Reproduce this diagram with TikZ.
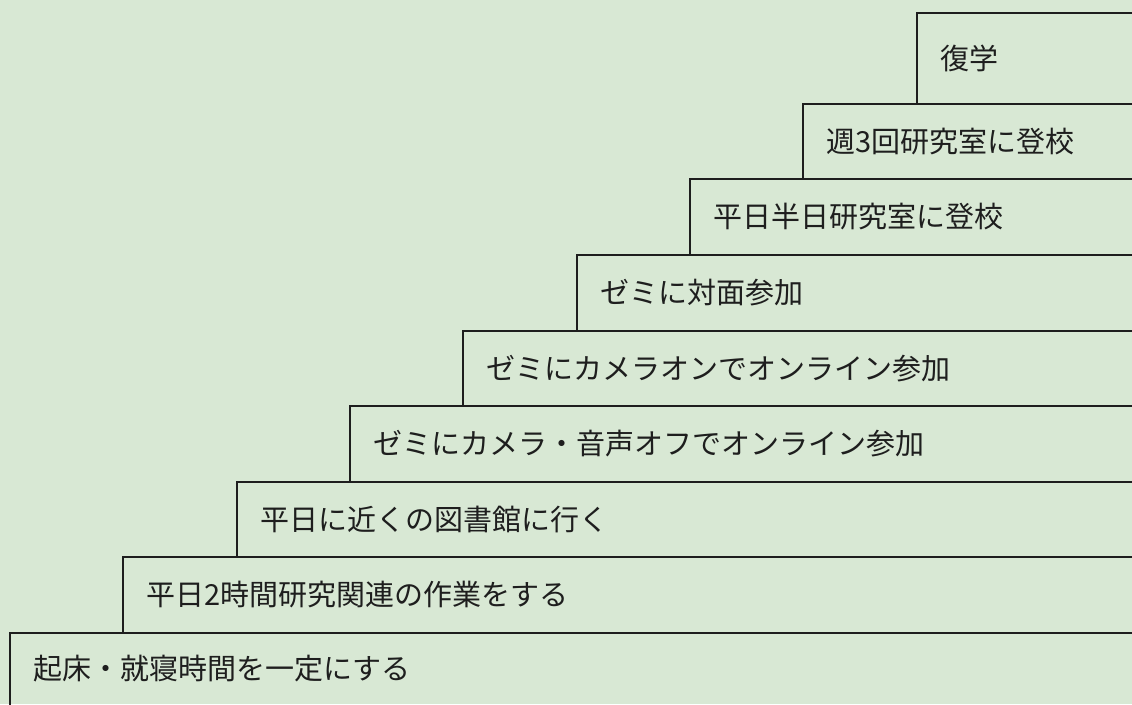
\documentclass[tikz,border=0pt]{standalone}
\usepackage{fontspec}
\newfontfamily\jpfont{Noto Sans CJK JP}
\definecolor{bg}{RGB}{216,232,212}
\definecolor{ink}{RGB}{30,30,30}
\begin{document}
\begin{tikzpicture}[x=1pt,y=-1pt,
  stepline/.style={line width=1.6pt, draw=ink, line cap=rect},
  steptext/.style={anchor=west, font=\jpfont\fontsize{29}{32}\selectfont, text=ink, inner sep=0pt}]
\fill[bg] (0,0) rectangle (1132,704);
\useasboundingbox (0,0) rectangle (1132,704);
\foreach \L/\T/\B/\txt [count=\i] in {
  10/633/704/{起床・就寝時間を一定にする},
  123/557/633/{平日2時間研究関連の作業をする},
  237/482/557/{平日に近くの図書館に行く},
  350/406/482/{ゼミにカメラ・音声オフでオンライン参加},
  463/331/406/{ゼミにカメラオンでオンライン参加},
  577/255/331/{ゼミに対面参加},
  690/179/255/{平日半日研究室に登校},
  803/104/179/{週3回研究室に登校},
  917/13/104/{復学}}
{
  \draw[stepline] (\L,\B) -- (\L,\T) -- (1140,\T);
  \node[steptext] (s\i) at (\L+23, {(\T+\B)/2}) {\txt};
}
\end{tikzpicture}
\end{document}
